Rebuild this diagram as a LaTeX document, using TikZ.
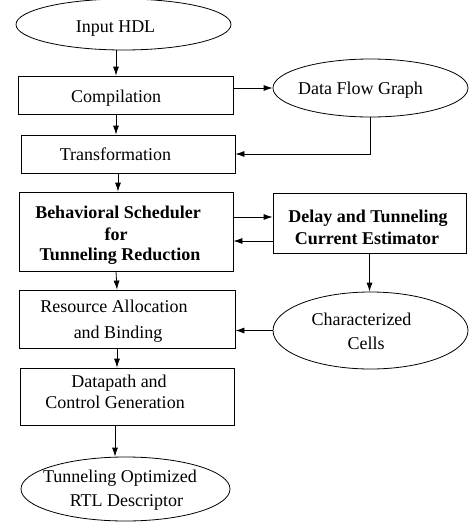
\documentclass[tikz,border=0pt]{standalone}
\usepackage{fontspec}
\setmainfont{Liberation Serif}
\usetikzlibrary{shapes.geometric,arrows.meta}
\begin{document}
\begin{tikzpicture}[x=1pt,y=-1pt,
  box/.style={draw,line width=0.8pt,inner sep=0pt,minimum width=#1},
  oval/.style={draw,ellipse,line width=0.8pt,inner sep=0pt},
  txt/.style={anchor=base,inner sep=0pt,font=\fontsize{18}{21}\selectfont},
  btxt/.style={anchor=base,inner sep=0pt,font=\fontsize{18}{21}\selectfont\bfseries},
  arr/.style={line width=0.8pt,-{Latex[length=9pt,width=6pt]}}]
\path[use as bounding box] (0,0) rectangle (470,522);
% shapes
\node[oval,minimum width=215pt,minimum height=51pt] (in) at (123.5,24.5) {};
\node[box=215pt,minimum height=38pt] (comp) at (125.5,95) {};
\node[oval,minimum width=195pt,minimum height=58pt] (dfg) at (370.5,88) {};
\node[box=214pt,minimum height=38pt] (trans) at (128,154) {};
\node[box=214pt,minimum height=79pt] (beh) at (126,231.5) {};
\node[box=193pt,minimum height=60pt] (delay) at (369.5,223) {};
\node[box=216pt,minimum height=58pt] (res) at (127,319) {};
\node[oval,minimum width=195pt,minimum height=77pt] (char) at (370.5,330.5) {};
\node[box=214pt,minimum height=57pt] (dp) at (127,396.5) {};
\node[oval,minimum width=209pt,minimum height=64pt] (out) at (125.5,489) {};
% texts
\node[txt] (tin) at (115.5,32) {Input HDL};
\node[txt] (tcomp) at (116,102) {Compilation};
\node[txt] (tdfg) at (360.5,94) {Data Flow Graph};
\node[txt] (ttrans) at (115.5,160) {Transformation};
\node[btxt] (tbeh1) at (118,218) {Behavioral Scheduler};
\node[btxt] (tbeh2) at (116,240.5) {for};
\node[btxt] (tbeh3) at (120,260) {Tunneling Reduction};
\node[btxt] (tdel1) at (368,222) {Delay and Tunneling};
\node[btxt] (tdel2) at (367,244) {Current Estimator};
\node[txt] (tres1) at (114,312) {Resource Allocation};
\node[txt] (tres2) at (118,338.5) {and Binding};
\node[txt] (tchar1) at (361.5,325) {Characterized};
\node[txt] (tchar2) at (366,349.5) {Cells};
\node[txt] (tdp1) at (119,387) {Datapath and};
\node[txt] (tdp2) at (115,408.5) {Control Generation};
\node[txt] (tout1) at (120,482) {Tunneling Optimized};
\node[txt] (tout2) at (126.5,506) {RTL Descriptor};
% connectors
\draw[arr] ([xshift=-7.5pt]in.south) -- ([xshift=-9.5pt]comp.north);
\draw[arr] (comp.east |- dfg.west) -- (dfg.west);
\draw[arr] ([xshift=-9.5pt]comp.south) -- ([xshift=-12pt]trans.north);
\draw[arr] (dfg.south) |- (trans.east);
\draw[arr] ([xshift=-10pt]trans.south) -- ([xshift=-8pt]beh.north);
\draw[arr] ([yshift=6pt]beh.east |- delay.west) -- ([yshift=6pt]delay.west);
\draw[arr] ([yshift=-18pt]delay.west) -- ([yshift=-18pt]delay.west -| beh.east);
\draw[arr] (delay.south) -- (delay.south |- char.north);
\draw[arr] (char.west) -- (char.west -| res.east);
\draw[arr] ([xshift=-10pt]beh.south) -- ([xshift=-10pt]res.north);
\draw[arr] ([xshift=-10pt]res.south) -- ([xshift=-10pt]dp.north);
\draw[arr] ([xshift=-12pt]dp.south) -- ([xshift=-10.5pt]out.north);
\end{tikzpicture}
\end{document}
